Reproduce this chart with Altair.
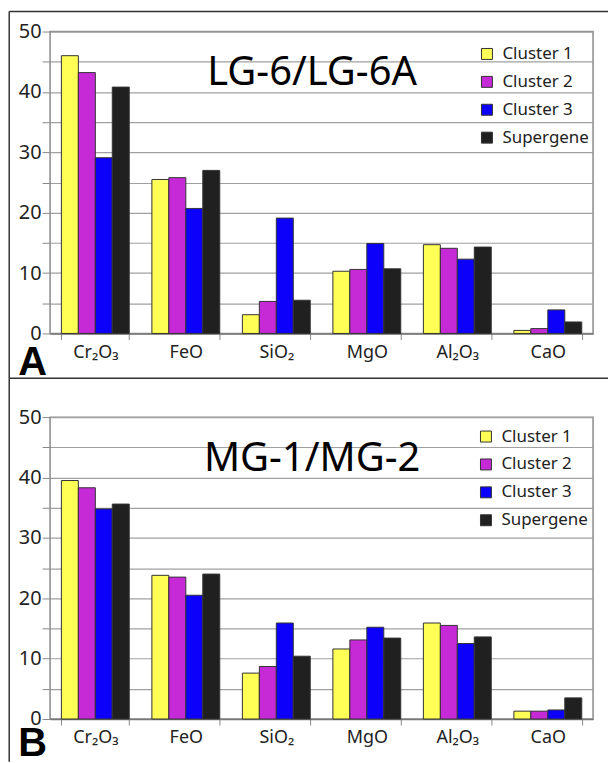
import altair as alt
import pandas as pd

# Oxide categories (x axis) and the four composition groups
oxides = ["Cr₂O₃", "FeO", "SiO₂", "MgO", "Al₂O₃", "CaO"]
groups = ["Cluster 1", "Cluster 2", "Cluster 3", "Supergene"]
group_colors = ["#ffff55", "#c62ad6", "#0c00fa", "#202020"]

# Mean oxide contents (wt%) — LG-6/LG-6A
lg_cluster1 = [46.0, 25.5, 3.1, 10.3, 14.7, 0.5]
lg_cluster2 = [43.2, 25.8, 5.3, 10.6, 14.1, 0.8]
lg_cluster3 = [29.1, 20.7, 19.1, 14.9, 12.3, 3.9]
lg_supergene = [40.8, 27.0, 5.5, 10.7, 14.3, 1.9]

# Mean oxide contents (wt%) — MG-1/MG-2
mg_cluster1 = [39.5, 23.8, 7.6, 11.6, 15.9, 1.3]
mg_cluster2 = [38.3, 23.5, 8.7, 13.1, 15.5, 1.3]
mg_cluster3 = [34.8, 20.5, 15.9, 15.2, 12.5, 1.5]
mg_supergene = [35.6, 24.0, 10.4, 13.4, 13.6, 3.5]

y_ticks = [0, 5, 10, 15, 20, 25, 30, 35, 40, 45, 50]

FONT = "Noto Sans"
W, H = 545, 303


def long_table(series):
    rows = []
    for g, vals in zip(groups, series):
        for ox, v in zip(oxides, vals):
            rows.append({"oxide": ox, "group": g, "value": v})
    return pd.DataFrame(rows)


def panel(series, title, letter, legend_x, legend_y, frame_top, frame_bottom, letter_x, letter_y):
    df = long_table(series)
    bars = alt.Chart(df).mark_bar(stroke="#333333", strokeWidth=1).encode(
        x=alt.X(
            "oxide:N", sort=oxides,
            scale=alt.Scale(paddingInner=0.25, paddingOuter=0.125),
            axis=alt.Axis(title=None, labelAngle=0, tickBand="extent", tickSize=6,
                          tickColor="#888888", domainColor="#777777", domainWidth=1.5,
                          labelFont=FONT, labelFontSize=18, labelColor="#222222",
                          labelPadding=4, grid=False),
        ),
        xOffset=alt.XOffset("group:N", sort=groups,
                            scale=alt.Scale(paddingInner=0, paddingOuter=0)),
        y=alt.Y(
            "value:Q",
            scale=alt.Scale(domain=[0, 50], nice=False),
            axis=alt.Axis(title=None, values=y_ticks,
                          labelExpr="datum.value % 10 === 0 ? datum.label : ''",
                          tickSize=8, tickColor="#888888", domain=False,
                          labelFont=FONT, labelFontSize=20, labelColor="#222222",
                          labelPadding=1, grid=True, gridColor="#a0a0a0", gridWidth=1.2),
        ),
        color=alt.Color(
            "group:N", sort=groups,
            scale=alt.Scale(domain=groups, range=group_colors),
            legend=alt.Legend(orient="none", legendX=legend_x, legendY=legend_y,
                              title=None, symbolType="square", symbolSize=121,
                              symbolStrokeColor="#333333", symbolStrokeWidth=1,
                              labelFont=FONT, labelFontSize=17, labelColor="#222222",
                              rowPadding=10, labelOffset=7, padding=0),
        ),
    )

    one = pd.DataFrame({"t": [title], "l": [letter]})
    title_text = alt.Chart(one).mark_text(
        font=FONT, fontSize=40, align="center", baseline="alphabetic", color="#000000"
    ).encode(text="t:N", x=alt.value(263), y=alt.value(54))

    letter_text = alt.Chart(one).mark_text(
        font="Liberation Sans", fontWeight="bold", fontSize=40,
        align="left", baseline="alphabetic", color="#000000"
    ).encode(text="l:N", x=alt.value(letter_x), y=alt.value(letter_y))

    # panel frame: top edge and left edge
    frame_h = alt.Chart(one).mark_rule(color="#333333", strokeWidth=1.5).encode(
        x=alt.value(-41), x2=alt.value(560), y=alt.value(frame_top))
    frame_v = alt.Chart(one).mark_rule(color="#333333", strokeWidth=1.5).encode(
        x=alt.value(-41), y=alt.value(frame_top), y2=alt.value(frame_bottom))

    return alt.layer(bars, title_text, letter_text, frame_h, frame_v).properties(
        width=W, height=H)


top = panel([lg_cluster1, lg_cluster2, lg_cluster3, lg_supergene], "LG-6/LG-6A", "A",
            430, 14, -20, 348, -32, 345)
bottom = panel([mg_cluster1, mg_cluster2, mg_cluster3, mg_supergene], "MG-1/MG-2", "B",
               429, 11, -39, 346, -32, 340)

chart = alt.vconcat(top, bottom, spacing=84, bounds="flush").resolve_scale(
    color="independent").resolve_legend(color="independent").properties(
    padding={"left": 7.25, "top": 8.25, "right": 0, "bottom": 0},
    background="white",
).configure_view(stroke="#8a8a8a", strokeWidth=1.5)

chart.save("out.html", embed_options={"renderer": "svg", "actions": False})
